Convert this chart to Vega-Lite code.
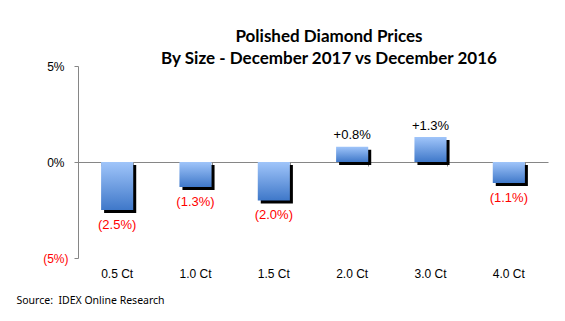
{
  "$schema": "https://vega.github.io/schema/vega-lite/v6.json",
  "autosize": {"type": "none"},
  "width": 470,
  "height": 192,
  "padding": {"left": 78, "top": 66, "right": 17, "bottom": 63},
  "background": "white",
  "config": {"view": {"stroke": null}},
  "title": {
    "text": ["Polished Diamond Prices", "By Size - December 2017 vs December 2016"],
    "font": "Lato",
    "fontWeight": "bold",
    "fontSize": 17,
    "color": "#000000",
    "anchor": "middle",
    "dx": 16,
    "lineHeight": 22,
    "offset": -8
  },
  "data": {
    "values": [
      {"size": "0.5 Ct", "value": -2.5, "label": "(2.5%)"},
      {"size": "1.0 Ct", "value": -1.3, "label": "(1.3%)"},
      {"size": "1.5 Ct", "value": -2.0, "label": "(2.0%)"},
      {"size": "2.0 Ct", "value": 0.8, "label": "+0.8%"},
      {"size": "3.0 Ct", "value": 1.3, "label": "+1.3%"},
      {"size": "4.0 Ct", "value": -1.1, "label": "(1.1%)"}
    ]
  },
  "encoding": {
    "y": {
      "field": "value", "type": "quantitative",
      "scale": {"domain": [-5, 5], "nice": false, "zero": true},
      "axis": {
        "orient": "left",
        "values": [-5, 0, 5], "grid": false, "title": null,
        "domainColor": "#868686", "tickColor": "#868686", "tickSize": 4,
        "labelPadding": {"condition": {"test": "datum.value < 0", "value": 6}, "value": 10},
        "labelFont": "Liberation Sans", "labelFontSize": 12,
        "labelExpr": "datum.value < 0 ? '(' + abs(datum.value) + '%)' : datum.value + '%'",
        "labelColor": {"condition": {"test": "datum.value < 0", "value": "#ff0000"}, "value": "#000000"}
      }
    }
  },
  "resolve": {"axis": {"x": "independent"}},
  "layer": [
    {
      "mark": {"type": "bar", "color": "#000000", "xOffset": 3, "x2Offset": 3, "yOffset": 3, "y2Offset": 3},
      "encoding": {
        "x": {
          "field": "size", "type": "nominal", "sort": null,
          "scale": {"paddingInner": 0.59, "paddingOuter": 0.295},
          "axis": {
            "orient": "bottom", "domain": false, "ticks": false, "tickSize": 0,
            "labelAngle": 0, "labelFont": "Liberation Sans", "labelFontSize": 12,
            "labelColor": "#000000", "labelPadding": 10,
            "title": "Source:\u00a0 IDEX Online Research",
            "titleFont": "Noto Sans", "titleFontSize": 10.5, "titleFontWeight": "normal",
            "titleColor": "#000000", "titleAnchor": "start", "titleAlign": "left",
            "titleBaseline": "alphabetic", "titleX": -62, "titleY": 45
          }
        }
      }
    },
    {
      "mark": {
        "type": "bar",
        "color": {
          "gradient": "linear", "x1": 0, "y1": 0, "x2": 0, "y2": 1,
          "stops": [{"offset": 0, "color": "#a0c5fa"}, {"offset": 1, "color": "#3f78c9"}]
        }
      },
      "encoding": {
        "x": {
          "field": "size", "type": "nominal", "sort": null,
          "axis": {
            "orient": "top", "offset": -96, "labels": false, "title": null,
            "tickBand": "extent", "tickSize": -4, "domainColor": "#868686",
            "tickColor": "#868686"
          }
        }
      }
    },
    {
      "transform": [{"filter": "datum.value < 0"}],
      "mark": {"type": "text", "font": "Liberation Sans", "fontSize": 13, "color": "#ff0000", "baseline": "alphabetic", "dy": 19},
      "encoding": {
        "x": {"field": "size", "type": "nominal", "sort": null, "axis": null},
        "text": {"field": "label"}
      }
    },
    {
      "transform": [{"filter": "datum.value > 0"}],
      "mark": {"type": "text", "font": "Liberation Sans", "fontSize": 13, "color": "#000000", "baseline": "alphabetic", "dy": -7.5},
      "encoding": {
        "x": {"field": "size", "type": "nominal", "sort": null, "axis": null},
        "text": {"field": "label"}
      }
    }
  ]
}
